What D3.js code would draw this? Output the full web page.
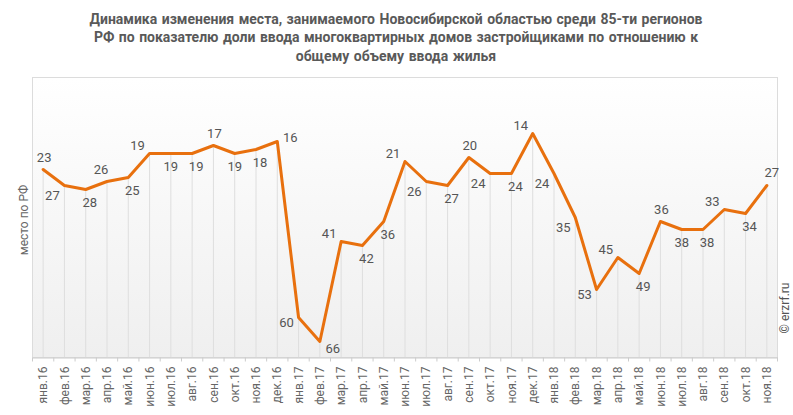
<!DOCTYPE html>
<html><head><meta charset="utf-8">
<script src="https://cdn.jsdelivr.net/npm/d3@7"></script>
<style>
body{margin:0;background:#fff;}
svg{display:block;font-family:Roboto,"Noto Sans",sans-serif;}
</style></head>
<body><svg id="chart" width="793" height="415"></svg>
<script>
const months = ["янв.16","фев.16","мар.16","апр.16","май.16","июн.16","июл.16","авг.16","сен.16","окт.16","ноя.16","дек.16",
"янв.17","фев.17","мар.17","апр.17","май.17","июн.17","июл.17","авг.17","сен.17","окт.17","ноя.17","дек.17",
"янв.18","фев.18","мар.18","апр.18","май.18","июн.18","июл.18","авг.18","сен.18","окт.18","ноя.18"];
const ranks = [23,27,28,26,25,19,19,19,17,19,18,16,60,66,41,42,36,21,26,27,20,24,24,14,24,35,53,45,49,36,38,38,33,34,27];
const titleLines = ["Динамика изменения места, занимаемого Новосибирской областью среди 85-ти регионов",
"РФ по показателю доли ввода многоквартирных домов застройщиками по отношению к",
"общему объему ввода жилья"];
const yTitle = "место по РФ";
const credit = "© erzrf.ru";

// label placement codes (layout only)
const placement = ["a","bl","b","am","b","al","c","b","a","c","b","r","l","br","al","b","b","al","bl","b","a","bl","b","al","bl","bl","l","al","b","a","c","b","al","b","ar"];
const offsets = {a:[1,-12.5], am:[-6,-12], ar:[5,-13], b:[4,13], c:[0,13], al:[-12,-8], bl:[-12,10], l:[-12,5], r:[13,-4], br:[13,7]};

const svg = d3.select("#chart");
const L = 32.5, R = 777.5, T = 77.5, B = 357.5;

const defs = svg.append("defs");
const g = defs.append("linearGradient").attr("id","bg").attr("x1",0).attr("y1",0).attr("x2",0).attr("y2",1);
g.append("stop").attr("offset","0%").attr("stop-color","#ffffff");
g.append("stop").attr("offset","100%").attr("stop-color","#efefef");

svg.append("rect").attr("x",L).attr("y",T).attr("width",R-L).attr("height",B-T)
  .attr("fill","url(#bg)").attr("stroke","#dcdcdc").attr("stroke-width",1);

const x = d3.scaleBand().domain(months).range([L,R]).padding(0);
const y = d3.scaleLinear().domain([0,70]).range([T,B]);
const cx = m => x(m) + x.bandwidth()/2;

// drop lines
svg.append("g").selectAll("line").data(months).join("line")
  .attr("x1",d=>cx(d)).attr("x2",d=>cx(d))
  .attr("y1",(d,i)=>y(ranks[i])).attr("y2",B)
  .attr("stroke","#dedede").attr("stroke-width",1);

// x axis
const xAxis = d3.axisBottom(x).tickSize(0).tickPadding(0);
const ax = svg.append("g").attr("transform",`translate(0,${B})`).call(xAxis);
ax.select(".domain").attr("stroke","#cccccc");
ax.selectAll(".tick text")
  .attr("transform","rotate(-90)")
  .attr("text-anchor","end")
  .attr("x",-9).attr("y",0).attr("dy","0.35em")
  .attr("fill","#666").style("font-size","12px").style("font-family","Roboto,sans-serif");
// boundary ticks
const bounds = months.map(m=>x(m)).concat([R]);
svg.append("g").selectAll("line").data(bounds).join("line")
  .attr("x1",d=>d).attr("x2",d=>d).attr("y1",B).attr("y2",B+4)
  .attr("stroke","#cccccc").attr("stroke-width",1);

// line
const line = d3.line().x((d,i)=>cx(months[i])).y(d=>y(d));
svg.append("path").datum(ranks).attr("d",line)
  .attr("fill","none").attr("stroke","#E8700E").attr("stroke-width",3)
  .attr("stroke-linejoin","round").attr("stroke-linecap","round");

// labels
svg.append("g").selectAll("text").data(ranks).join("text")
  .attr("x",(d,i)=>cx(months[i]) + offsets[placement[i]][0])
  .attr("y",(d,i)=>y(d) + offsets[placement[i]][1])
  .attr("dy","0.35em").attr("text-anchor","middle")
  .attr("fill","#555").style("font-size","13px")
  .text(d=>d);

// title
svg.append("text").attr("text-anchor","middle").attr("fill","#595959")
  .style("font-size","14px").style("font-weight","700").style("word-spacing","1px")
  .selectAll("tspan").data(titleLines).join("tspan")
  .attr("x",396).attr("y",(d,i)=>24+i*18.3).text(d=>d);

// y title
svg.append("text").attr("transform","translate(28,220) rotate(-90)")
  .attr("text-anchor","middle").attr("fill","#666").style("font-size","12px").text(yTitle);

// credit
svg.append("text").attr("transform","translate(789,308) rotate(-90)")
  .attr("text-anchor","middle").attr("fill","#555").style("font-size","12px").text(credit);
</script>
</body></html>
